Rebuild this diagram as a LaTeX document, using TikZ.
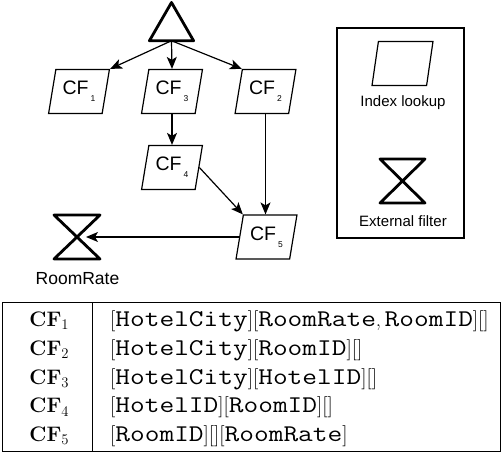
\documentclass[tikz,border=0pt]{standalone}
\usepackage{fontspec}
\setsansfont{Liberation Sans}
\usepackage{graphicx}
\usetikzlibrary{arrows.meta, calc, shapes.geometric}

\newcommand{\cfsub}[1]{CF\kern2pt\raisebox{-7pt}{\fontsize{8.5}{8.5}\selectfont #1}}
\newcommand{\cfrow}[1]{\textbf{CF}\raisebox{-3.2pt}{\fontsize{14.7}{14.7}\selectfont #1}}
\newcommand{\fld}[1]{\scalebox{1.19}[1]{\fontsize{24}{24}\selectfont\ttfamily #1}}

\tikzset{
    lookup/.style={trapezium, trapezium left angle=76, trapezium right angle=104,
        trapezium stretches=true, draw, line width=1.2pt, minimum width=61pt,
        minimum height=44pt, inner sep=0pt, font=\sffamily\fontsize{19.5}{19.5}\selectfont},
    symb/.style={line width=2.8pt, line join=round},
    conn/.style={-{Stealth[length=12pt, width=10pt, inset=3pt]}, line width=1.2pt},
    label/.style={anchor=base, inner sep=0pt, font=\sffamily\fontsize{15}{15}\selectfont},
    cell/.style={anchor=base, inner sep=0pt, font=\fontsize{21}{25}\selectfont},
}

\begin{document}
\begin{tikzpicture}[x=1pt, y=-1pt]
    \useasboundingbox (0,0) rectangle (501,454);

    % Source
    \node[regular polygon, regular polygon sides=3, draw, symb, minimum size=51pt,
        inner sep=0pt, outer sep=0pt] (src) at (171.5,28) {};

    % Index lookups
    \node[lookup] (cf1) at (79,91.5) {\cfsub{1}};
    \node[lookup] (cf3) at (172,91.5) {\cfsub{3}};
    \node[lookup] (cf2) at (265.5,91.5) {\cfsub{2}};
    \node[lookup] (cf4) at (172,167.5) {\cfsub{4}};
    \node[lookup] (cf5) at (266.5,237) {\cfsub{5}};

    % External filter
    \draw[symb] (54,215) -- (100,215) -- (54,259) -- (100,259) -- cycle;
    \coordinate (rr) at (86,237);
    \node[label, font=\sffamily\fontsize{17.5}{17.5}\selectfont] (rrlab) at (77.5,285) {RoomRate};

    % Connectors
    \draw[conn] (src.south) -- (cf1.top right corner);
    \draw[conn] (src.south) -- (cf3.north);
    \draw[conn] (src.south) -- (cf2.top left corner);
    \draw[conn] (cf3.south) -- (cf4.north);
    \draw[conn] (cf4.east) -- (cf5.top left corner);
    \draw[conn] (cf2.south) -- (cf2.south |- cf5.north);
    \draw[conn] (cf5.west) -- (rr);

    % Legend
    \draw[line width=1.2pt] (337,28) rectangle (464,238);
    \node[lookup] (lk) at (402.5,63.5) {\phantom{CF}};
    \node[label] (lklab) at (403,107) {Index lookup};
    \draw[symb] (380,159) -- (425,159) -- (380,203) -- (425,203) -- cycle;
    \node[label] (eflab) at (403,227) {External filter};

    % Table
    \draw[line width=0.8pt] (2,302.5) rectangle (500,451.5);
    \draw[line width=0.8pt] (92,302.5) -- (92,451.5);
    \foreach \i/\row in {1/{[\fld{HotelCity}][\fld{RoomRate},\,\fld{RoomID}][]},
                         2/{[\fld{HotelCity}][\fld{RoomID}][]},
                         3/{[\fld{HotelCity}][\fld{HotelID}][]},
                         4/{[\fld{HotelID}][\fld{RoomID}][]},
                         5/{[\fld{RoomID}][][\fld{RoomRate}]}} {
        \node[cell] (c\i) at (49,297.95+28.75*\i) {\cfrow{\i}};
        \node[cell, anchor=base west] (r\i) at (110,297.95+28.75*\i) {\row};
    }
\end{tikzpicture}
\end{document}
